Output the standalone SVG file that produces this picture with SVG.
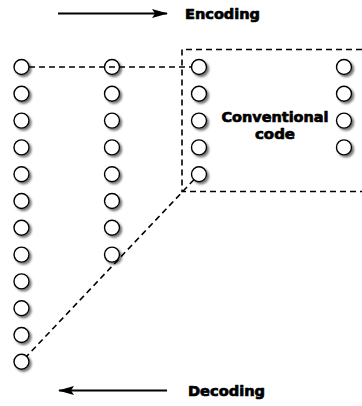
<svg xmlns="http://www.w3.org/2000/svg" width="362" height="406" viewBox="0 0 362 406">
  <style>
    .bit { fill: #ffffff; stroke: #000000; stroke-width: 1.4; filter: url(#shade); }
    .dash { fill: none; stroke: #000000; stroke-width: 1.6; stroke-dasharray: 6 4; }
    .arrow { fill: none; stroke: #000000; stroke-width: 2.2; }
    .label { font-family: "DejaVu Sans", "Liberation Sans", sans-serif; font-weight: bold; font-size: 14px; fill: #000000; stroke: #000000; stroke-width: 0.7; stroke-linejoin: round; }
  </style>
  <defs>
    <filter id="shade" x="-50%" y="-50%" width="200%" height="200%">
      <feDropShadow dx="2" dy="2" stdDeviation="1" flood-color="#555555" flood-opacity="0.8"/>
    </filter>
    <marker id="head" markerWidth="16" markerHeight="10" refX="15" refY="5" orient="auto" markerUnits="userSpaceOnUse">
      <path d="M0,0.5 L16,5 L0,9.5 L3,5 Z" fill="#000000"/>
    </marker>
  </defs>

  <rect width="362" height="406" fill="#ffffff"/>

  <!-- direction arrows -->
  <g id="encoding">
    <line class="arrow" x1="58" y1="13.5" x2="167" y2="13.5" marker-end="url(#head)"/>
    <text class="label" x="185" y="19" textLength="75" lengthAdjust="spacingAndGlyphs">Encoding</text>
  </g>
  <g id="decoding">
    <line class="arrow" x1="167" y1="390.5" x2="59" y2="390.5" marker-end="url(#head)"/>
    <text class="label" x="188" y="396" textLength="77" lengthAdjust="spacingAndGlyphs">Decoding</text>
  </g>

  <!-- column 1: 12 symbols -->
  <g id="column1">
    <circle class="bit" cx="21.5" cy="67" r="7.5"/>
    <circle class="bit" cx="21.5" cy="93.8" r="7.5"/>
    <circle class="bit" cx="21.5" cy="120.6" r="7.5"/>
    <circle class="bit" cx="21.5" cy="147.4" r="7.5"/>
    <circle class="bit" cx="21.5" cy="174.2" r="7.5"/>
    <circle class="bit" cx="21.5" cy="201" r="7.5"/>
    <circle class="bit" cx="21.5" cy="227.8" r="7.5"/>
    <circle class="bit" cx="21.5" cy="254.6" r="7.5"/>
    <circle class="bit" cx="21.5" cy="281.4" r="7.5"/>
    <circle class="bit" cx="21.5" cy="308.2" r="7.5"/>
    <circle class="bit" cx="21.5" cy="335" r="7.5"/>
    <circle class="bit" cx="21.5" cy="361.8" r="7.5"/>
  </g>

  <!-- column 2: 8 symbols -->
  <g id="column2">
    <circle class="bit" cx="112" cy="67" r="7.5"/>
    <circle class="bit" cx="112" cy="93.8" r="7.5"/>
    <circle class="bit" cx="112" cy="120.6" r="7.5"/>
    <circle class="bit" cx="112" cy="147.4" r="7.5"/>
    <circle class="bit" cx="112" cy="174.2" r="7.5"/>
    <circle class="bit" cx="112" cy="201" r="7.5"/>
    <circle class="bit" cx="112" cy="227.8" r="7.5"/>
    <circle class="bit" cx="112" cy="254.6" r="7.5"/>
  </g>

  <!-- column 3: 5 symbols -->
  <g id="column3">
    <circle class="bit" cx="199" cy="67" r="7.5"/>
    <circle class="bit" cx="199" cy="93.8" r="7.5"/>
    <circle class="bit" cx="199" cy="120.6" r="7.5"/>
    <circle class="bit" cx="199" cy="147.4" r="7.5"/>
    <circle class="bit" cx="199" cy="174.2" r="7.5"/>
  </g>

  <!-- column 4: 4 symbols -->
  <g id="column4">
    <circle class="bit" cx="344" cy="67" r="7.5"/>
    <circle class="bit" cx="344" cy="93.8" r="7.5"/>
    <circle class="bit" cx="344" cy="120.6" r="7.5"/>
    <circle class="bit" cx="344" cy="147.4" r="7.5"/>
  </g>

  <!-- conventional code block -->
  <g id="conventional-code">
    <text class="label" x="275" y="122" text-anchor="middle" font-size="13.5" textLength="107" lengthAdjust="spacingAndGlyphs">Conventional</text>
    <text class="label" x="275" y="139" text-anchor="middle" font-size="13.5" textLength="40" lengthAdjust="spacingAndGlyphs">code</text>
  </g>

  <!-- dashed connectors -->
  <g id="connectors">
    <path class="dash" d="M362,49.5 H182 V191.5 H362"/>
    <line class="dash" x1="29" y1="67" x2="191.5" y2="67"/>
    <line class="dash" x1="193.9" y1="179.7" x2="26.6" y2="356.4"/>
  </g>
</svg>
